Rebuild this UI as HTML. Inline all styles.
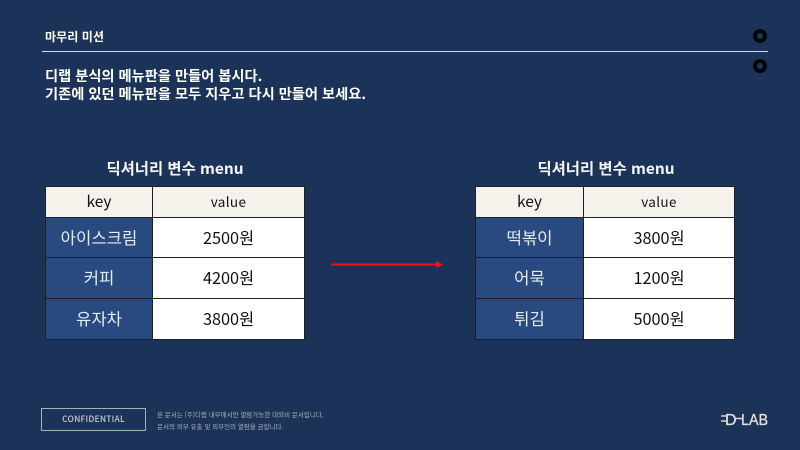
<!DOCTYPE html>
<html lang="ko">
<head>
<meta charset="utf-8">
<title>딕셔너리 변수 menu</title>
<style>
html,body{margin:0;padding:0;}
body{width:800px;height:450px;overflow:hidden;background:#1c3359;font-family:"Liberation Sans","Noto Sans CJK KR",sans-serif;position:relative;}
.abs{position:absolute;white-space:nowrap;}
.tbl{position:absolute;top:186px;height:154px;background:#1f1f1f;}
.cell{position:absolute;display:flex;align-items:center;justify-content:center;font-family:"Noto Sans CJK KR",sans-serif;font-size:16.3px;color:#111;box-sizing:border-box;padding-bottom:2px;}
.hd{background:#f5f2ec;font-size:15.5px;padding-bottom:2px;}
.hd.val{font-size:13.5px;letter-spacing:.35px;}
.k{background:#284a80;color:#e6ebf3;font-size:16.7px;}
.v{background:#fff;}
.cap{position:absolute;top:157px;font-family:"Noto Sans CJK KR",sans-serif;font-weight:700;font-size:15.4px;line-height:22px;color:#f4f5f7;text-align:center;white-space:nowrap;}
</style>
</head>
<body>
<div class="abs" style="left:45px;top:29px;font-family:'Noto Sans CJK KR',sans-serif;font-weight:700;font-size:12.1px;line-height:16px;color:#fff;">마무리 미션</div>
<div class="abs" style="left:42px;top:51px;width:726px;height:1px;background:#d8dbe0;"></div>
<div class="abs" style="left:753px;top:29px;width:6px;height:6px;border:4.5px solid #050505;border-radius:50%;"></div>
<div class="abs" style="left:753px;top:59px;width:6px;height:6px;border:4.5px solid #050505;border-radius:50%;"></div>
<div class="abs" style="left:45px;top:67px;font-family:'Noto Sans CJK KR',sans-serif;font-weight:700;font-size:14.25px;line-height:18px;color:#fff;">디랩 분식의 메뉴판을 만들어 봅시다.<br>기존에 있던 메뉴판을 모두 지우고 다시 만들어 보세요.</div>

<div class="cap" style="left:45px;width:260px;">딕셔너리 변수 menu</div>
<div class="tbl" style="left:45px;width:260px;">
  <div class="cell hd" style="left:1px;top:1px;width:106px;height:30px;">key</div>
  <div class="cell hd val" style="left:108px;top:1px;width:151px;height:30px;">value</div>
  <div class="cell k" style="left:1px;top:32px;width:106px;height:39px;">아이스크림</div>
  <div class="cell v" style="left:108px;top:32px;width:151px;height:39px;">2500원</div>
  <div class="cell k" style="left:1px;top:72px;width:106px;height:40px;">커피</div>
  <div class="cell v" style="left:108px;top:72px;width:151px;height:40px;">4200원</div>
  <div class="cell k" style="left:1px;top:113px;width:106px;height:40px;">유자차</div>
  <div class="cell v" style="left:108px;top:113px;width:151px;height:40px;">3800원</div>
</div>

<svg class="abs" style="left:325px;top:258px;" width="125" height="14" viewBox="0 0 125 14">
  <line x1="6" y1="6.5" x2="112" y2="6.5" stroke="#f0101a" stroke-width="2"/>
  <polygon points="111,3 118,6.5 111,10" fill="#f0101a"/>
</svg>

<div class="cap" style="left:476px;width:260px;">딕셔너리 변수 menu</div>
<div class="tbl" style="left:475px;width:260px;">
  <div class="cell hd" style="left:1px;top:1px;width:107px;height:30px;">key</div>
  <div class="cell hd val" style="left:109px;top:1px;width:150px;height:30px;">value</div>
  <div class="cell k" style="left:1px;top:32px;width:107px;height:39px;">떡볶이</div>
  <div class="cell v" style="left:109px;top:32px;width:150px;height:39px;">3800원</div>
  <div class="cell k" style="left:1px;top:72px;width:107px;height:40px;">어묵</div>
  <div class="cell v" style="left:109px;top:72px;width:150px;height:40px;">1200원</div>
  <div class="cell k" style="left:1px;top:113px;width:107px;height:40px;">튀김</div>
  <div class="cell v" style="left:109px;top:113px;width:150px;height:40px;">5000원</div>
</div>

<div class="abs" style="left:41px;top:408px;width:105px;height:23px;box-sizing:border-box;border:1.5px solid #a9afb8;text-align:center;font-family:'Noto Sans CJK KR',sans-serif;font-weight:500;font-size:8.5px;line-height:20px;letter-spacing:.2px;color:#c6cad1;">CONFIDENTIAL</div>
<div class="abs" style="left:157px;top:408px;font-family:'Noto Sans CJK KR',sans-serif;font-size:6.5px;line-height:12px;color:#aab0ba;">본 문서는 (주)디랩 내부에서만 열람가능한 대외비 문서입니다.<br>문서의 외부 유출 및 외부인의 열람을 금합니다.</div>

<svg class="abs" style="left:718px;top:408px;" width="54" height="20" viewBox="0 0 54 20">
  <g stroke="#e6e0d2" stroke-width="1.4" fill="none">
    <line x1="3" y1="8" x2="8" y2="8"/>
    <line x1="3" y1="13" x2="8" y2="13"/>
    <line x1="18" y1="10.5" x2="24" y2="10.5"/>
  </g>
  <text x="7" y="17" font-family="'Liberation Sans',sans-serif" font-size="16" stroke="#e6e0d2" stroke-width=".3" fill="#e6e0d2">D</text>
  <text x="23" y="17" font-family="'Liberation Sans',sans-serif" font-size="15.5" textLength="27" lengthAdjust="spacingAndGlyphs" stroke="#e6e0d2" stroke-width=".3" fill="#e6e0d2">LAB</text>
</svg>
</body>
</html>
